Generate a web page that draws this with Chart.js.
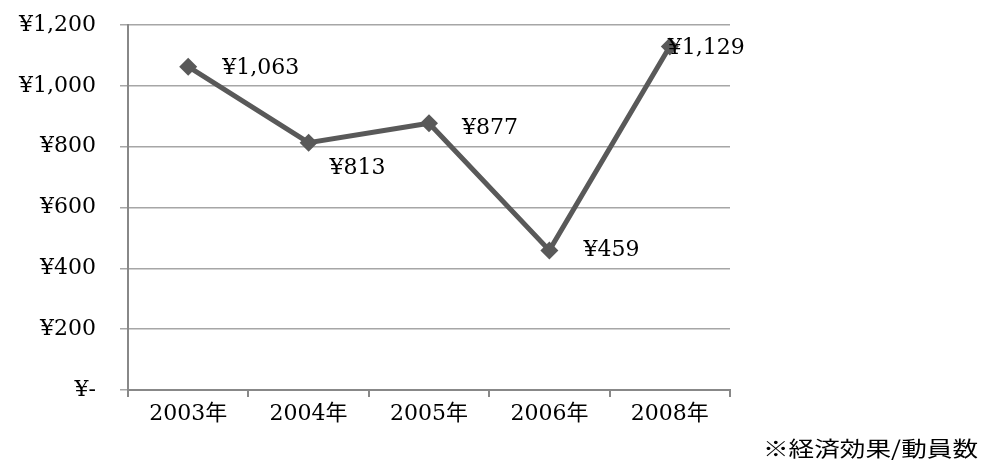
<!DOCTYPE html>
<html><head><meta charset="utf-8">
<script src="https://cdn.jsdelivr.net/npm/chart.js@4"></script>
<style>
html,body{margin:0;padding:0;background:#fff;}
#wrap{position:relative;width:994px;height:461px;}
#note{position:absolute;left:763px;top:434px;font-family:"Noto Sans CJK JP",sans-serif;font-size:21px;line-height:26px;color:#000;transform:scaleX(1.22);transform-origin:left top;white-space:nowrap;}
</style>
</head><body>
<div id="wrap"><canvas id="c" width="994" height="461"></canvas><div id="note">※経済効果/動員数</div></div>
<script>
const categories = ["2003年","2004年","2005年","2006年","2008年"];
const values = [1063, 813, 877, 459, 1129];
const yTicks = [0, 200, 400, 600, 800, 1000, 1200];

const FONT = {family:'"DejaVu Serif","Liberation Serif","Noto Sans CJK JP",serif', size:22};
function yen(v){ return v === 0 ? "¥-" : "¥" + v.toLocaleString("en-US"); }

const labelPlugin = {
  id:'pointLabels',
  afterDatasetsDraw(chart, args, opts){
    const ctx = chart.ctx;
    const meta = chart.getDatasetMeta(0);
    ctx.save();
    ctx.font = FONT.size + 'px ' + FONT.family;
    ctx.fillStyle = '#000';
    ctx.textAlign = 'left';
    ctx.textBaseline = 'middle';
    meta.data.forEach((pt, i) => {
      const o = opts.offsets[i];
      ctx.fillText(yen(values[i]), pt.x + o[0], pt.y + o[1]);
    });
    ctx.restore();
  }
};

new Chart(document.getElementById('c'), {
  type:'line',
  data:{
    labels:categories,
    datasets:[{
      data:values,
      borderColor:'#595959',
      backgroundColor:'#595959',
      borderWidth:5,
      pointStyle:'rectRot',
      pointRadius:9,
      pointHoverRadius:9,
      pointBorderWidth:0,
      tension:0
    }]
  },
  options:{
    responsive:false,
    animation:false,
    layout:{padding:{top:25,right:264,left:0,bottom:0}},
    plugins:{
      legend:{display:false},
      tooltip:{enabled:false},
      pointLabels:{offsets:[[34,2],[21,26],[33,5],[34,0],[-2,2]]}
    },
    scales:{
      x:{
        offset:true,
        grid:{offset:true,drawOnChartArea:false,drawTicks:true,tickLength:7,color:'#888',lineWidth:2},
        border:{color:'#888',width:2},
        ticks:{color:'#000',font:FONT,padding:4,maxRotation:0},
        afterFit(s){ s.height = 71; s.paddingLeft = 0; s.paddingRight = 0; }
      },
      y:{
        min:0,max:1200,
        afterBuildTicks(s){ s.ticks = yTicks.map(v=>({value:v})); },
        grid:{color:'#a6a6a6',lineWidth:1.5,tickLength:8},
        border:{color:'#888',width:2},
        ticks:{color:'#000',font:FONT,padding:24,callback:(v)=>yen(v)},
        afterFit(s){ s.width = 128; s.paddingTop = 0; s.paddingBottom = 0; }
      }
    }
  },
  plugins:[labelPlugin]
});
</script>
</body></html>
